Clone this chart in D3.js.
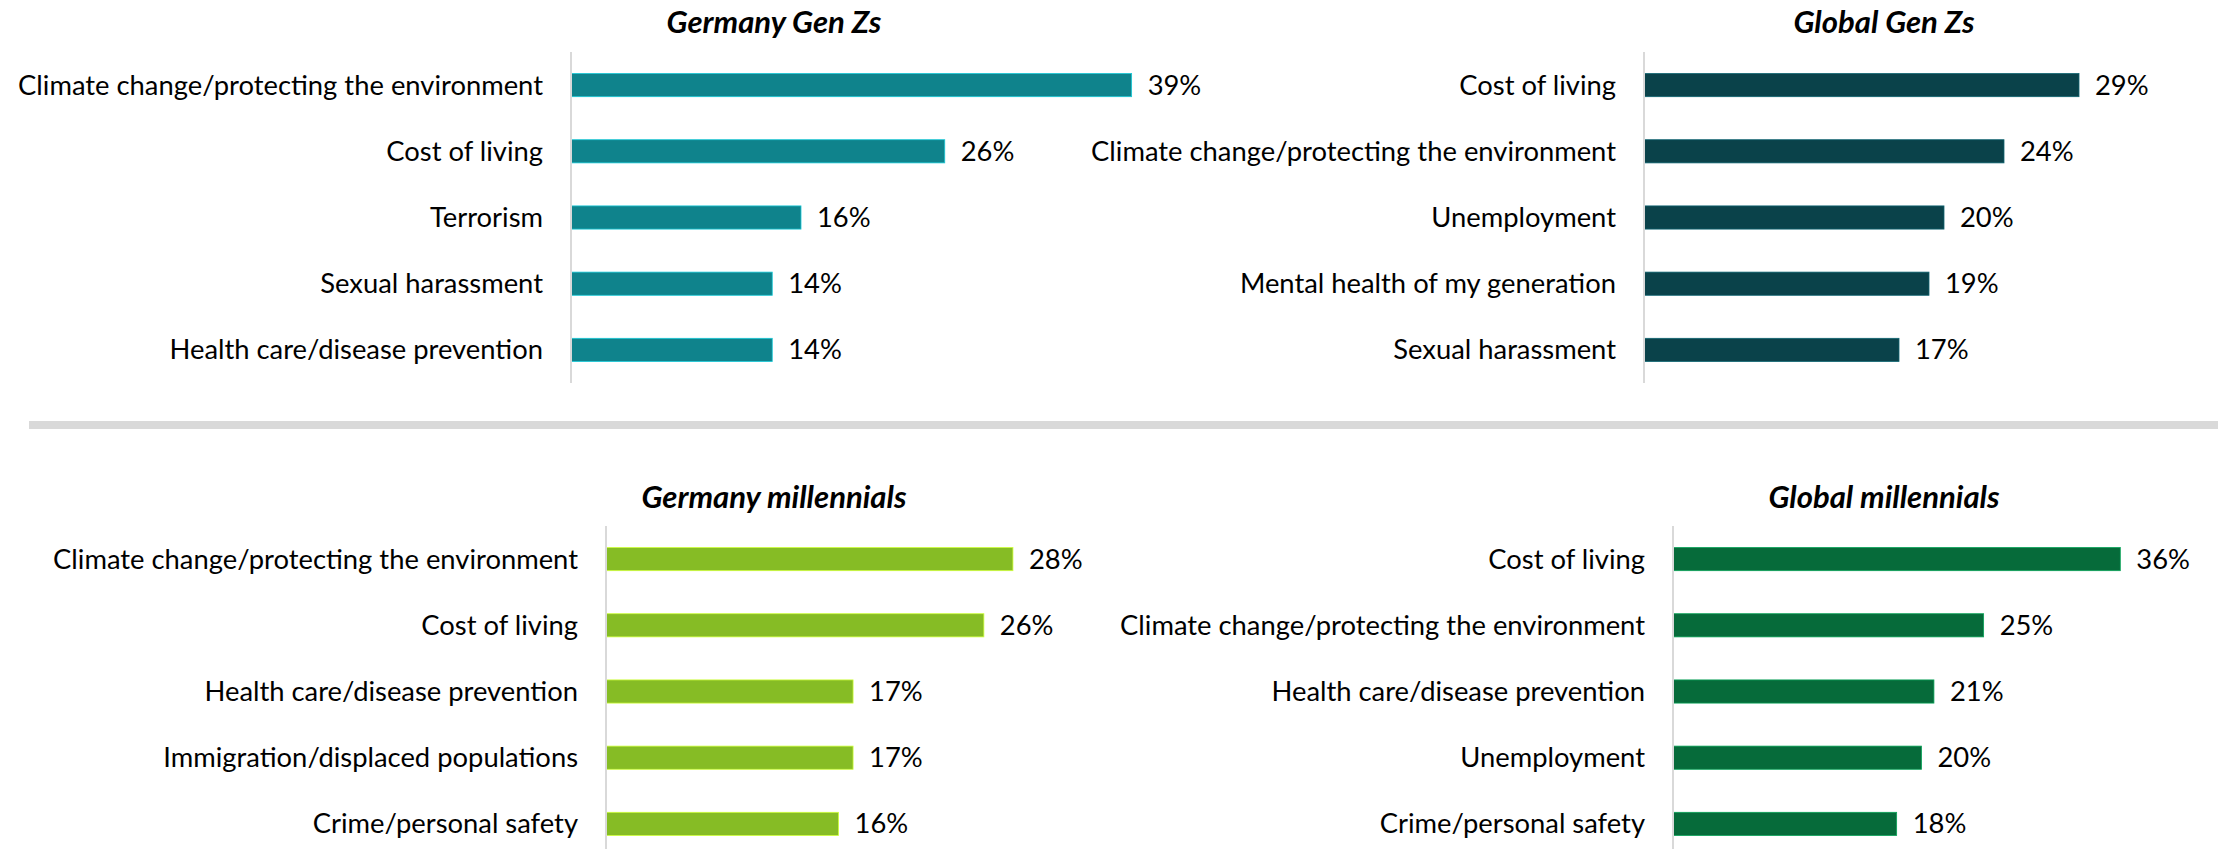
<!DOCTYPE html>
<html>
<head>
<meta charset="utf-8">
<script src="https://cdn.jsdelivr.net/npm/d3@7"></script>
<style>
  html, body { margin: 0; padding: 0; background: #fff; }
  svg { display: block; }
  text { font-family: Lato, "Open Sans", sans-serif; fill: #000; }
</style>
</head>
<body>
<script>
// data
var deGenZLabels = ["Climate change/protecting the environment", "Cost of living", "Terrorism",
                    "Sexual harassment", "Health care/disease prevention"];
var deGenZValues = [39, 26, 16, 14, 14];

var glGenZLabels = ["Cost of living", "Climate change/protecting the environment", "Unemployment",
                    "Mental health of my generation", "Sexual harassment"];
var glGenZValues = [29, 24, 20, 19, 17];

var deMillLabels = ["Climate change/protecting the environment", "Cost of living",
                    "Health care/disease prevention", "Immigration/displaced populations",
                    "Crime/personal safety"];
var deMillValues = [28, 26, 17, 17, 16];

var glMillLabels = ["Cost of living", "Climate change/protecting the environment",
                    "Health care/disease prevention", "Unemployment", "Crime/personal safety"];
var glMillValues = [36, 25, 21, 20, 18];

var titles = ["Germany Gen Zs", "Global Gen Zs", "Germany millennials", "Global millennials"];

var width = 2218,
    height = 849;

// layout of the four small charts
var panels = [
  {title: titles[0], labels: deGenZLabels, values: deGenZValues, color: "#0f838c",
   axisX: 571, top: 52, titleX: 774, titleY: 33, max: 40, span: 575},
  {title: titles[1], labels: glGenZLabels, values: glGenZValues, color: "#0a424a",
   axisX: 1644, top: 52, titleX: 1884, titleY: 33, max: 30, span: 450},
  {title: titles[2], labels: deMillLabels, values: deMillValues, color: "#86bc25",
   axisX: 606, top: 526, titleX: 774, titleY: 508, max: 30, span: 436},
  {title: titles[3], labels: glMillLabels, values: glMillValues, color: "#066b3a",
   axisX: 1673, top: 526, titleX: 1884, titleY: 508, max: 40, span: 497}
];
var bandH = 331;

var svg = d3.select("body").append("svg")
    .attr("width", width)
    .attr("height", height);

// size the fonts so the text is as wide as in the picture
var probe = svg.append("text").style("font-size", "100px")
    .text("Climate change/protecting the environment");
var fs = 100 * 525 / probe.node().getComputedTextLength();
probe.style("font-weight", "bold").style("font-style", "italic").text("Germany Gen Zs");
var tfs = 100 * 215 / probe.node().getComputedTextLength();
probe.remove();

// grey divider between the two rows
svg.append("rect")
    .attr("x", 29).attr("y", 421)
    .attr("width", width - 29).attr("height", 8)
    .attr("fill", "#d9d9d9");

panels.forEach(function(p) {
  var g = svg.append("g");

  var y = d3.scaleBand()
      .domain(p.labels)
      .range([p.top, p.top + bandH])
      .paddingInner(0.65)
      .paddingOuter(0.325);

  var x = d3.scaleLinear()
      .domain([0, p.max])
      .range([p.axisX, p.axisX + p.span]);

  g.append("text")
      .attr("x", p.titleX)
      .attr("y", p.titleY)
      .attr("text-anchor", "middle")
      .style("font-size", tfs + "px")
      .style("font-weight", "bold")
      .style("font-style", "italic")
      .text(p.title);

  var rows = p.labels.map(function(l, i) { return {label: l, value: p.values[i]}; });

  g.selectAll("rect.bar")
    .data(rows)
    .enter().append("rect")
      .attr("class", "bar")
      .attr("x", x(0))
      .attr("y", function(d) { return y(d.label); })
      .attr("width", function(d) { return x(d.value) - x(0); })
      .attr("height", y.bandwidth())
      .attr("fill", p.color)
      .attr("stroke", d3.color(p.color).brighter(1.2))
      .attr("stroke-width", 0.8);

  g.selectAll("text.cat")
    .data(rows)
    .enter().append("text")
      .attr("class", "cat")
      .attr("x", p.axisX - 28)
      .attr("y", function(d) { return y(d.label) + y.bandwidth() / 2; })
      .attr("dy", "0.35em")
      .attr("text-anchor", "end")
      .style("font-size", fs + "px")
      .text(function(d) { return d.label; });

  g.selectAll("text.val")
    .data(rows)
    .enter().append("text")
      .attr("class", "val")
      .attr("x", function(d) { return x(d.value) + 16; })
      .attr("y", function(d) { return y(d.label) + y.bandwidth() / 2; })
      .attr("dy", "0.35em")
      .style("font-size", fs + "px")
      .text(function(d) { return d.value + "%"; });

  // category axis line
  g.append("line")
      .attr("x1", p.axisX).attr("x2", p.axisX)
      .attr("y1", p.top).attr("y2", p.top + bandH)
      .attr("stroke", "#d9d9d9")
      .attr("stroke-width", 2);
});
</script>
</body>
</html>
